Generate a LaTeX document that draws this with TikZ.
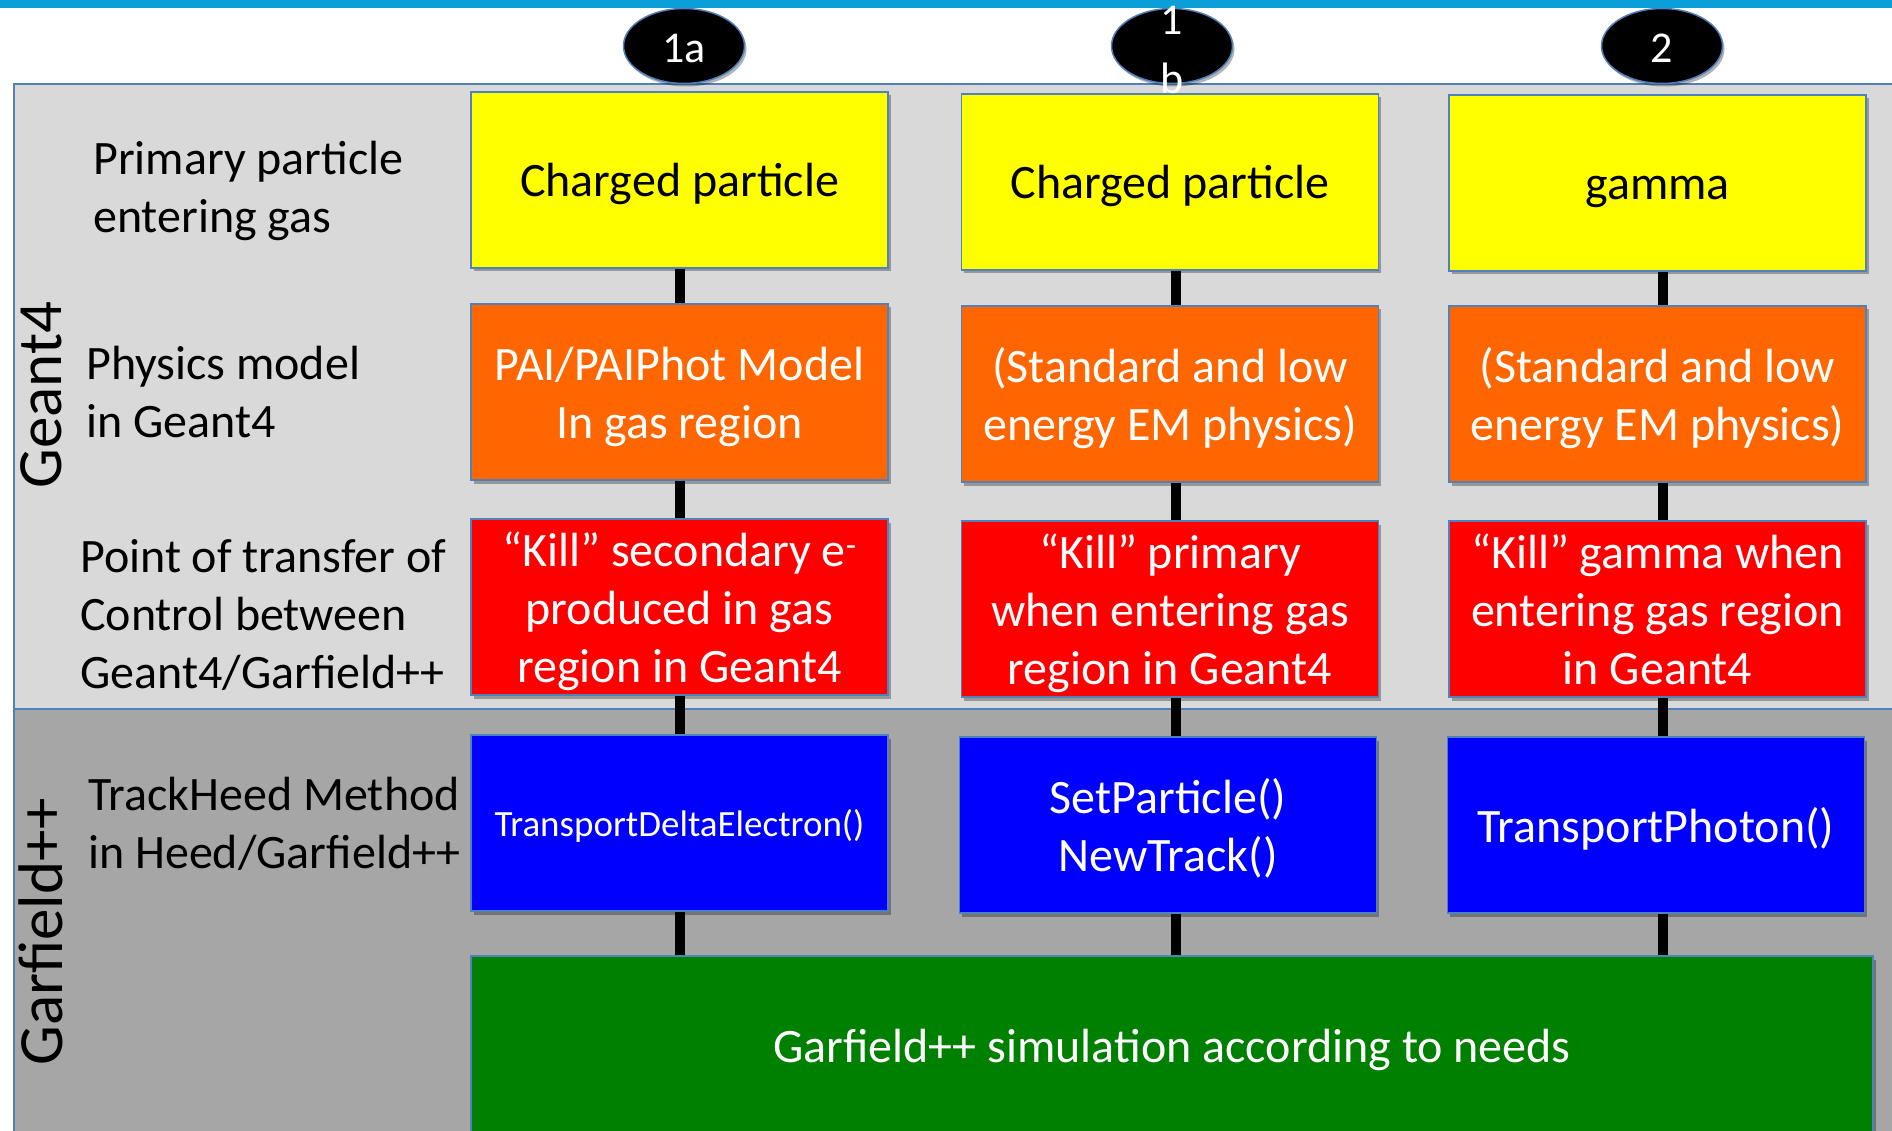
\documentclass[tikz,border=0pt]{standalone}
\usepackage{fontspec}
\setmainfont{Carlito}
\usetikzlibrary{shapes.geometric,shadows}
\definecolor{topbar}{HTML}{0A9FD8}
\definecolor{edge}{HTML}{4F81BD}
\definecolor{geantbg}{HTML}{D9D9D9}
\definecolor{garfbg}{HTML}{A6A6A6}
\definecolor{cyellow}{HTML}{FFFF00}
\definecolor{corange}{HTML}{FF6600}
\definecolor{cred}{HTML}{FF0000}
\definecolor{cblue}{HTML}{0000FF}
\definecolor{cgreen}{HTML}{008000}
\newcommand\mystrut{\rule[-12pt]{0pt}{58pt}}
\newcommand\mysmallstrut{\rule[-10pt]{0pt}{46pt}}
\begin{document}
\begin{tikzpicture}[x=1pt,y=-1pt,
  box/.style={draw=edge, line width=1.5pt, minimum width=417pt, minimum height=176pt,
    inner sep=0pt, align=center, font=\fontsize{48}{58}\selectfont,
    drop shadow={shadow xshift=2.5pt, shadow yshift=-3.5pt, opacity=0.3, fill=black}},
  wbox/.style={box, text=white},
  lab/.style={anchor=west, align=left, inner sep=0pt, font=\fontsize{48}{58}\selectfont},
  side/.style={rotate=90, inner sep=0pt, font=\fontsize{63}{70}\selectfont},
  badge/.style={ellipse, draw=edge, line width=1.5pt, fill=black, text=white,
    minimum width=121pt, minimum height=75pt, inner sep=0pt,
    font=\fontsize{44}{54}\selectfont, text height=34pt, text depth=0pt,
    drop shadow={shadow xshift=2pt, shadow yshift=-3pt, opacity=0.3, fill=black}},
  conn/.style={line width=10pt, black}]
\clip (0,0) rectangle (1892,1131);
% backgrounds
\fill[white] (0,0) rectangle (1892,1131);
\fill[topbar] (0,0) rectangle (1892,8);
\fill[geantbg] (14,84) rectangle (1892,709);
\fill[garfbg] (14,709) rectangle (1892,1131);
\draw[edge, line width=1.5pt] (1892,84) -- (14,84) -- (14,1131);
\draw[edge, line width=1.5pt] (14,709) -- (1892,709);

% side labels
\node[side] (geant) at (41,395) {Geant4};
\node[side] (garf) at (41,932) {Garfield++};

% row labels
\node[lab] (l1) at (93,187) {\mystrut Primary particle\\\mystrut entering gas};
\node[lab] (l2) at (86,391) {\mystrut Physics model\\\mystrut in Geant4};
\node[lab] (l3) at (80,613) {\mystrut Point of transfer of\\\mystrut Control between\\\mystrut Geant4/Garfield++};
\node[lab] (l4) at (88,822) {\mystrut TrackHeed Method\\\mystrut in Heed/Garfield++};

% column 1a
\node[box, fill=cyellow] (y1) at (679.5,180) {\mystrut Charged particle};
\node[wbox, fill=corange] (o1) at (679.5,392) {\mystrut PAI/PAIPhot Model\\\mystrut In gas region};
\node[wbox, fill=cred] (r1) at (679.5,607) {\mystrut “Kill” secondary e\textsuperscript{-}\\\mystrut produced in gas\\\mystrut region in Geant4};
\node[wbox, fill=cblue, font=\fontsize{37}{45}\selectfont] (b1) at (679.5,823) {\mysmallstrut TransportDeltaElectron()};

% column 1b
\node[box, fill=cyellow] (y2) at (1170,182) {\mystrut Charged particle};
\node[wbox, fill=corange] (o2) at (1170,394) {\mystrut (Standard and low\\\mystrut energy EM physics)};
\node[wbox, fill=cred] (r2) at (1170,609) {\mystrut “Kill” primary\\\mystrut when entering gas\\\mystrut region in Geant4};
\node[wbox, fill=cblue] (b2) at (1168,825) {\mystrut SetParticle()\\\mystrut NewTrack()};

% column 2
\node[box, fill=cyellow] (y3) at (1657.5,183) {\mystrut gamma};
\node[wbox, fill=corange] (o3) at (1657.5,394) {\mystrut (Standard and low\\\mystrut energy EM physics)};
\node[wbox, fill=cred] (r3) at (1657.5,609) {\mystrut “Kill” gamma when\\\mystrut entering gas region\\\mystrut in Geant4};
\node[wbox, fill=cblue] (b3) at (1656,825) {\mystrut TransportPhoton()};

% green
\node[wbox, fill=cgreen, minimum width=1402pt, minimum height=178pt] (g) at (1172,1045) {\mystrut Garfield++ simulation according to needs};

% connectors
\draw[conn] (y1.south) -- (o1.north);
\draw[conn] (o1.south) -- (r1.north);
\draw[conn] (r1.south) -- (b1.north);
\draw[conn] (b1.south) -- (b1.south |- g.north);
\draw[conn] ([xshift=6pt]y2.south) -- ([xshift=6pt]o2.north);
\draw[conn] ([xshift=6pt]o2.south) -- ([xshift=6pt]r2.north);
\draw[conn] ([xshift=6pt]r2.south) -- ([xshift=8pt]b2.north);
\draw[conn] ([xshift=8pt]b2.south) -- ([xshift=8pt]b2.south |- g.north);
\draw[conn] ([xshift=5pt]y3.south) -- ([xshift=5pt]o3.north);
\draw[conn] ([xshift=5pt]o3.south) -- ([xshift=5pt]r3.north);
\draw[conn] ([xshift=5pt]r3.south) -- ([xshift=6.5pt]b3.north);
\draw[conn] ([xshift=6.5pt]b3.south) -- ([xshift=6.5pt]b3.south |- g.north);

% badges
\node[badge] (n1a) at (684,46) {1a};
\node[badge, label={[text=white, align=center, inner sep=0pt, yshift=-4pt, font=\fontsize{44}{59}\selectfont]center:{1\\b}}] (n1b) at (1172,46) {};
\node[badge] (n2) at (1662,46) {2};
\end{tikzpicture}
\end{document}
